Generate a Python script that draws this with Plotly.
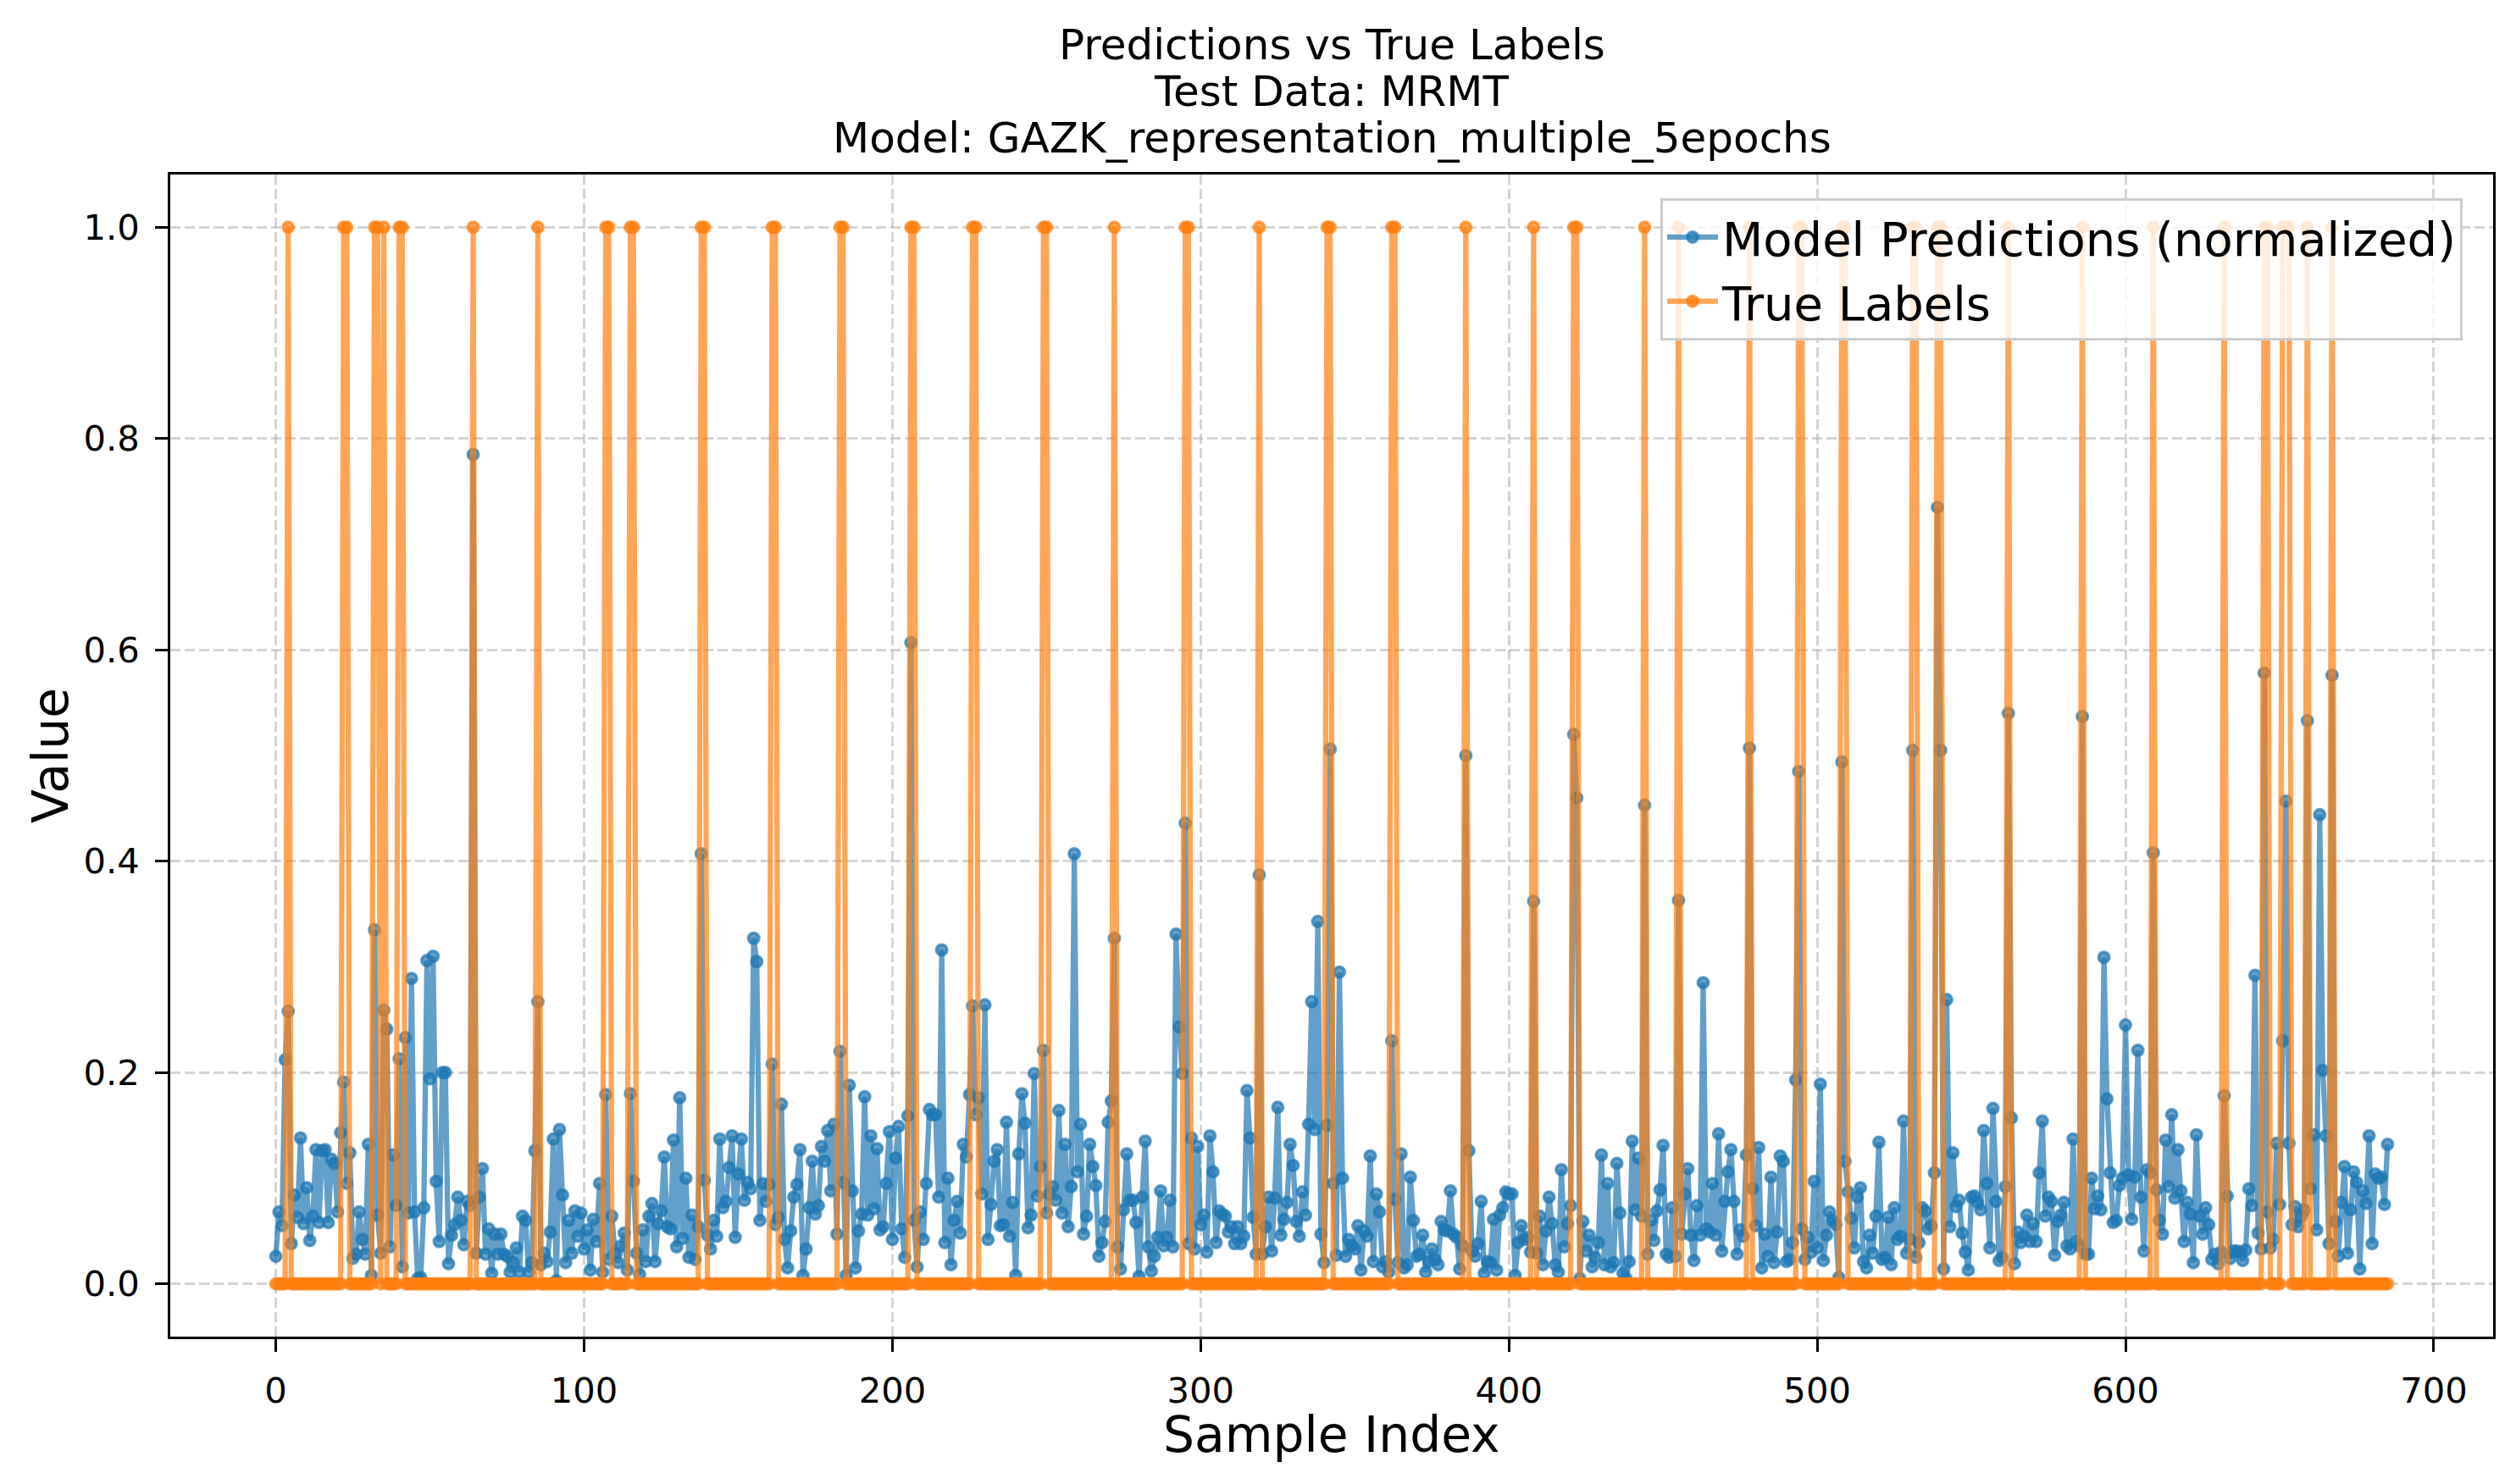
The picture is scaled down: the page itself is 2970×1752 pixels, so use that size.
import plotly.graph_objects as go

# Model predictions (normalized), sample index 0..685
predictions = [
    0.026,0.068,0.055,0.212,0.258,0.038,0.084,0.063,0.138,0.057,
    0.091,0.041,0.064,0.127,0.058,0.126,0.127,0.058,0.118,0.114,
    0.068,0.143,0.191,0.095,0.124,0.024,0.028,0.068,0.042,0.028,
    0.132,0.008,0.335,0.065,0.029,0.259,0.241,0.035,0.122,0.074,
    0.213,0.016,0.233,0.067,0.289,0.068,0.005,0.006,0.072,0.306,
    0.194,0.310,0.097,0.040,0.200,0.200,0.019,0.046,0.056,0.082,
    0.060,0.037,0.078,0.074,0.785,0.029,0.082,0.109,0.028,0.052,
    0.010,0.047,0.028,0.047,0.028,0.026,0.011,0.020,0.034,0.011,
    0.064,0.060,0.011,0.020,0.126,0.267,0.018,0.029,0.021,0.049,
    0.137,0.003,0.146,0.084,0.020,0.060,0.029,0.069,0.045,0.067,
    0.033,0.051,0.013,0.061,0.040,0.095,0.011,0.179,0.023,0.064,
    0.029,0.020,0.036,0.048,0.013,0.180,0.097,0.029,0.009,0.051,
    0.021,0.064,0.076,0.021,0.057,0.069,0.120,0.054,0.052,0.136,
    0.035,0.176,0.043,0.100,0.025,0.065,0.023,0.054,0.407,0.098,
    0.046,0.033,0.060,0.045,0.137,0.072,0.078,0.110,0.140,0.044,
    0.104,0.137,0.079,0.096,0.090,0.327,0.305,0.060,0.095,0.078,
    0.094,0.208,0.056,0.063,0.170,0.042,0.015,0.050,0.082,0.094,
    0.127,0.008,0.033,0.072,0.116,0.066,0.074,0.130,0.116,0.145,
    0.088,0.151,0.047,0.220,0.096,0.008,0.188,0.088,0.015,0.050,
    0.066,0.177,0.065,0.140,0.071,0.128,0.051,0.054,0.095,0.144,
    0.042,0.119,0.149,0.052,0.025,0.159,0.607,0.060,0.016,0.068,
    0.042,0.095,0.165,0.160,0.160,0.082,0.316,0.039,0.100,0.018,
    0.060,0.078,0.048,0.132,0.120,0.179,0.263,0.160,0.176,0.085,
    0.264,0.042,0.075,0.116,0.127,0.055,0.056,0.153,0.045,0.077,
    0.008,0.123,0.180,0.152,0.053,0.065,0.199,0.083,0.111,0.221,
    0.067,0.085,0.092,0.079,0.164,0.067,0.132,0.054,0.092,0.407,
    0.106,0.151,0.047,0.064,0.132,0.111,0.093,0.026,0.039,0.059,
    0.153,0.173,0.327,0.035,0.014,0.070,0.123,0.079,0.079,0.058,
    0.007,0.082,0.135,0.035,0.012,0.026,0.044,0.088,0.036,0.044,
    0.079,0.035,0.331,0.243,0.199,0.436,0.038,0.138,0.033,0.130,
    0.056,0.065,0.030,0.140,0.106,0.039,0.069,0.066,0.064,0.049,
    0.054,0.038,0.054,0.038,0.045,0.183,0.138,0.063,0.028,0.387,
    0.028,0.054,0.082,0.031,0.081,0.167,0.046,0.061,0.077,0.132,
    0.112,0.059,0.045,0.087,0.065,0.151,0.267,0.146,0.343,0.047,
    0.020,0.150,0.506,0.095,0.027,0.295,0.100,0.026,0.042,0.036,
    0.033,0.055,0.013,0.050,0.045,0.121,0.021,0.085,0.068,0.016,
    0.021,0.011,0.230,0.080,0.020,0.123,0.015,0.018,0.101,0.060,
    0.026,0.028,0.046,0.011,0.021,0.033,0.023,0.018,0.059,0.051,
    0.050,0.088,0.047,0.044,0.014,0.036,0.500,0.126,0.031,0.026,
    0.038,0.078,0.010,0.021,0.020,0.061,0.013,0.065,0.072,0.087,
    0.085,0.085,0.008,0.039,0.055,0.042,0.044,0.030,0.362,0.029,
    0.064,0.018,0.050,0.082,0.057,0.018,0.011,0.108,0.035,0.057,
    0.074,0.520,0.460,0.005,0.059,0.031,0.046,0.016,0.025,0.039,
    0.122,0.018,0.095,0.016,0.020,0.114,0.067,0.010,0.005,0.021,
    0.135,0.070,0.119,0.064,0.453,0.028,0.060,0.041,0.069,0.089,
    0.131,0.028,0.025,0.072,0.026,0.363,0.047,0.085,0.109,0.046,
    0.022,0.074,0.046,0.285,0.052,0.049,0.095,0.046,0.142,0.031,
    0.078,0.106,0.127,0.078,0.028,0.051,0.045,0.122,0.507,0.090,
    0.055,0.129,0.015,0.047,0.026,0.101,0.020,0.049,0.121,0.116,
    0.021,0.023,0.039,0.193,0.485,0.052,0.023,0.044,0.030,0.097,
    0.034,0.189,0.022,0.046,0.068,0.060,0.056,0.006,0.494,0.116,
    0.087,0.062,0.034,0.082,0.091,0.021,0.015,0.046,0.029,0.064,
    0.134,0.023,0.025,0.063,0.018,0.072,0.042,0.045,0.154,0.029,
    0.042,0.505,0.025,0.039,0.072,0.069,0.052,0.055,0.105,0.735,
    0.505,0.014,0.269,0.054,0.124,0.073,0.079,0.048,0.030,0.013,
    0.082,0.083,0.077,0.070,0.145,0.095,0.034,0.166,0.078,0.022,
    0.025,0.092,0.540,0.157,0.019,0.049,0.039,0.045,0.065,0.040,
    0.057,0.040,0.105,0.154,0.064,0.082,0.078,0.027,0.059,0.065,
    0.077,0.036,0.033,0.137,0.040,0.036,0.537,0.028,0.028,0.100,
    0.071,0.083,0.070,0.309,0.175,0.105,0.058,0.060,0.093,0.100,
    0.245,0.103,0.061,0.101,0.221,0.082,0.031,0.108,0.105,0.408,
    0.089,0.060,0.047,0.136,0.092,0.160,0.081,0.127,0.088,0.040,
    0.077,0.066,0.020,0.141,0.064,0.047,0.072,0.056,0.023,0.028,
    0.019,0.030,0.178,0.083,0.024,0.031,0.031,0.030,0.022,0.032,
    0.090,0.074,0.292,0.048,0.033,0.578,0.068,0.034,0.042,0.133,
    0.075,0.230,0.457,0.133,0.056,0.073,0.054,0.064,0.070,0.533,
    0.090,0.141,0.051,0.444,0.202,0.140,0.038,0.576,0.059,0.026,
    0.077,0.111,0.029,0.070,0.106,0.096,0.014,0.088,0.076,0.140,
    0.038,0.104,0.100,0.101,0.075,0.132,
]

# Sample indices whose true label is 1 (all others are 0)
positive_indices = [
    4, 22, 23, 32, 33, 35, 40, 41, 64, 85, 107, 108, 115, 116, 138, 139,
    161, 162, 183, 184, 206, 207, 226, 227, 249, 250, 272, 295, 296, 319,
    341, 342, 362, 363, 386, 408, 421, 422, 444, 455, 478, 494, 495, 508,
    509, 531, 532, 539, 540, 562, 586, 609, 632, 645, 646, 651, 652, 653,
    659, 667,
]

x_ticks = [0, 100, 200, 300, 400, 500, 600, 700]
y_ticks = [0.0, 0.2, 0.4, 0.6, 0.8, 1.0]

title_lines = ["Predictions vs True Labels", "Test Data: MRMT",
               "Model: GAZK_representation_multiple_5epochs"]

sample_index = list(range(len(predictions)))
pos_set = set(positive_indices)
true_labels = [1 if i in pos_set else 0 for i in sample_index]

W, H = 2970, 1752
L, R, T, B = 193, 35, 198, 182
FONT = "DejaVu Sans"

blue = "rgba(31,119,180,0.7)"
orange = "rgba(255,127,14,0.7)"

fig = go.Figure()
fig.add_trace(go.Scatter(
    x=sample_index, y=predictions, mode="lines+markers",
    name="Model Predictions (normalized)",
    line=dict(color=blue, width=6.25),
    marker=dict(color=blue, size=12.5, line=dict(width=3.5, color=blue)),
))
fig.add_trace(go.Scatter(
    x=sample_index, y=true_labels, mode="lines+markers",
    name="True Labels",
    line=dict(color=orange, width=6.25),
    marker=dict(color=orange, size=12.5, line=dict(width=3.5, color=orange)),
))

n = len(sample_index) - 1
axis_common = dict(
    showline=True, mirror=True, linecolor="black", linewidth=3.3,
    ticks="outside", ticklen=14.6, tickwidth=3.3, tickcolor="black",
    tickfont=dict(family=FONT, size=41.7, color="black"),
    showgrid=True, gridcolor="rgba(176,176,176,0.55)", gridwidth=3.3,
    griddash="12px,5px", zeroline=False, ticklabelstandoff=10,
)
fig.update_xaxes(range=[-0.05 * n, 1.05 * n], tickvals=x_ticks,
                 ticktext=[str(v) for v in x_ticks], **axis_common)
fig.update_yaxes(range=[-0.05, 1.05], tickvals=y_ticks,
                 ticktext=[f"{v:.1f}" for v in y_ticks], **axis_common)

ph = H - T - B
pw = W - L - R


def py(ypix):
    return (H - B - ypix) / ph


def px(xpix):
    return (xpix - L) / pw


annotations = []
for line, yc in zip(title_lines, [45, 100, 155]):
    annotations.append(dict(
        text=line, x=0.5, y=py(yc), xref="paper", yref="paper",
        xanchor="center", yanchor="middle", showarrow=False,
        font=dict(family=FONT, size=50, color="black")))
annotations.append(dict(
    text="Sample Index", x=0.5, y=py(1686), xref="paper", yref="paper",
    xanchor="center", yanchor="middle", showarrow=False,
    font=dict(family=FONT, size=58.3, color="black")))
annotations.append(dict(
    text="Value", x=px(52), y=0.5, xref="paper", yref="paper",
    xanchor="center", yanchor="middle", showarrow=False, textangle=-90,
    font=dict(family=FONT, size=58.3, color="black")))

fig.update_layout(
    width=W, height=H,
    margin=dict(l=L, r=R, t=T, b=B, autoexpand=False),
    paper_bgcolor="white", plot_bgcolor="white",
    showlegend=True,
    legend=dict(
        x=px(2899), y=py(226), xanchor="right", yanchor="top",
        bgcolor="rgba(255,255,255,0.8)", bordercolor="#cccccc", borderwidth=3,
        font=dict(family=FONT, size=56, color="black"),
        itemwidth=60, tracegroupgap=0,
    ),
    annotations=annotations,
)

fig.write_html("out.html")
